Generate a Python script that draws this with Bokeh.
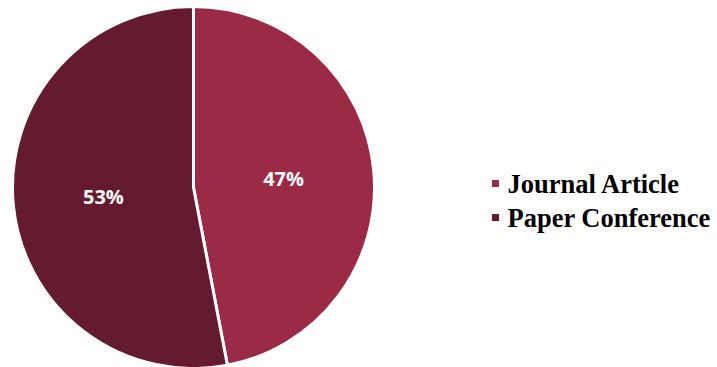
import math
from bokeh.plotting import figure
from bokeh.models import ColumnDataSource, Range1d
from bokeh.core.properties import value
from bokeh.embed import file_html
from bokeh.resources import INLINE

categories = ["Journal Article", "Paper Conference"]
shares = [47, 53]
colors = ["#9B2A46", "#641A2F"]
labels = ["47%", "53%"]

W, H = 717, 367
cx, cy, R = 193, H - 187, 181

total = sum(shares)
starts, ends, lx, ly = [], [], [], []
a = math.pi / 2
for s in shares:
    sweep = 2 * math.pi * s / total
    e = a - sweep
    starts.append(e)
    ends.append(a)
    mid = (a + e) / 2
    lx.append(cx + 0.5 * R * math.cos(mid))
    ly.append(cy + 0.5 * R * math.sin(mid))
    a = e

src = ColumnDataSource(dict(start=starts, end=ends, color=colors, lx=lx, ly=ly, label=labels))

p = figure(width=W, height=H, output_backend="svg", toolbar_location=None,
           x_range=Range1d(0, W), y_range=Range1d(0, H), min_border=0)
p.axis.visible = False
p.grid.visible = False
p.outline_line_color = None
p.background_fill_color = "white"

p.wedge(x=cx, y=cy, radius=R, start_angle="start", end_angle="end", fill_color="color",
        line_color="white", line_width=3, source=src)
p.text(x="lx", y="ly", text="label", source=src, text_color="white",
       text_font=value("Open Sans"), text_font_style="bold", text_font_size="20px",
       text_align="center", text_baseline="middle")

leg_y = [H - 183, H - 217]
leg = ColumnDataSource(dict(x=[495, 495], y=leg_y, color=colors, name=categories, tx=[507, 507]))
p.scatter(x="x", y="y", marker="square", size=7, fill_color="color", line_color=None, source=leg)
p.text(x="tx", y="y", text="name", source=leg, text_color="black",
       text_font=value("Liberation Serif"), text_font_style="bold", text_font_size="26.5px",
       text_align="left", text_baseline="middle")

open("out.html", "w").write(file_html(p, INLINE))
